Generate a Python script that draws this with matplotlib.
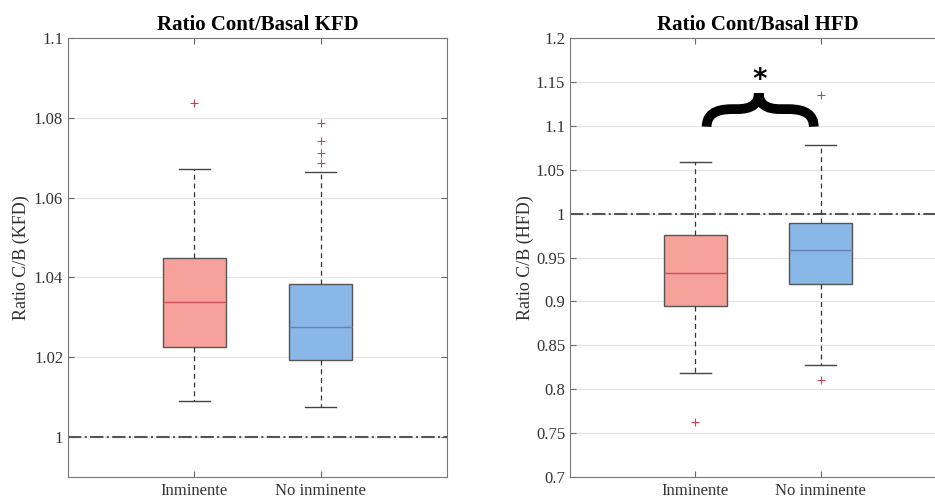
import matplotlib.pyplot as plt
from matplotlib.path import Path
from matplotlib.patches import PathPatch

groups = ['Inminente', 'No inminente']

# KFD ratio: box statistics per group
kfd_q1 = [1.0226, 1.0192]
kfd_med = [1.0339, 1.0276]
kfd_q3 = [1.0449, 1.0384]
kfd_whislo = [1.0090, 1.0076]
kfd_whishi = [1.0672, 1.0664]
kfd_fliers = [[1.0838], [1.0786, 1.0741, 1.0711, 1.0686]]

# HFD ratio: box statistics per group
hfd_q1 = [0.895, 0.9195]
hfd_med = [0.932, 0.959]
hfd_q3 = [0.976, 0.989]
hfd_whislo = [0.818, 0.828]
hfd_whishi = [1.059, 1.078]
hfd_fliers = [[0.763], [1.135, 0.811]]

kfd_ticks = [1.0, 1.02, 1.04, 1.06, 1.08, 1.1]
kfd_ticklabels = ['1', '1.02', '1.04', '1.06', '1.08', '1.1']
hfd_ticks = [0.7, 0.75, 0.8, 0.85, 0.9, 0.95, 1.0, 1.05, 1.1, 1.15, 1.2]
hfd_ticklabels = ['0.7', '0.75', '0.8', '0.85', '0.9', '0.95', '1', '1.05', '1.1', '1.15', '1.2']

fills = ['#f7a19b', '#88b7e8']
medcolors = ['#c9505a', '#6b80b8']

plt.rcParams['font.family'] = ['Liberation Serif', 'DejaVu Serif']


def make_stats(q1, med, q3, lo, hi, fl):
    out = []
    for i in range(len(q1)):
        out.append({'q1': q1[i], 'med': med[i], 'q3': q3[i],
                    'whislo': lo[i], 'whishi': hi[i], 'fliers': fl[i],
                    'label': groups[i]})
    return out


def draw_box(ax, stats, title, ylabel, ylim, ticks, ticklabels):
    b = ax.bxp(stats, positions=[1, 2], widths=0.5, patch_artist=True,
               showfliers=True, capwidths=0.25,
               whiskerprops=dict(color='#333333', linestyle=(0, (4, 3)), lw=0.9),
               capprops=dict(color='#444444', lw=1.0),
               flierprops=dict(marker='+', markeredgecolor='#d04050', markersize=6, markeredgewidth=0.8),
               boxprops=dict(edgecolor='#555555', lw=1.0))
    for i, p in enumerate(b['boxes']):
        p.set_facecolor(fills[i])
    for i, m in enumerate(b['medians']):
        m.set_color(medcolors[i])
        m.set_linewidth(1.0)
    ax.axhline(1.0, color='#555555', linestyle='-.', lw=1.5, zorder=1)
    ax.set_xlim(0, 3)
    ax.set_ylim(*ylim)
    ax.set_yticks(ticks)
    ax.set_yticklabels(ticklabels)
    ax.set_xticks([1, 2])
    ax.set_xticklabels(groups)
    ax.yaxis.grid(True, color='#e4e4e4', lw=0.8)
    ax.set_axisbelow(True)
    ax.tick_params(direction='in', top=True, right=True, labelsize=12,
                   colors='#666666', labelcolor='#333333', length=4)
    ax.tick_params(axis='x', pad=4)
    for s in ax.spines.values():
        s.set_color('#777777')
    ax.set_title(title, fontsize=15, fontweight='bold', pad=6)
    ax.set_ylabel(ylabel, fontsize=13, color='#333333')


fig = plt.figure(figsize=(9.35, 4.99), dpi=100)
W, H = 935, 499
ax1 = fig.add_axes([68 / W, 1 - 477 / H, 379 / W, 439 / H])
ax2 = fig.add_axes([570 / W, 1 - 477 / H, 376 / W, 439 / H])

draw_box(ax1, make_stats(kfd_q1, kfd_med, kfd_q3, kfd_whislo, kfd_whishi, kfd_fliers),
         'Ratio Cont/Basal KFD', 'Ratio C/B (KFD)', (0.99, 1.1), kfd_ticks, kfd_ticklabels)
draw_box(ax2, make_stats(hfd_q1, hfd_med, hfd_q3, hfd_whislo, hfd_whishi, hfd_fliers),
         'Ratio Cont/Basal HFD', 'Ratio C/B (HFD)', (0.7, 1.2), hfd_ticks, hfd_ticklabels)
ax1.yaxis.set_label_coords(-0.1, 0.5)
ax2.yaxis.set_label_coords(-0.095, 0.5)

# significance brace between the two HFD groups
bx0, bx1, bxm = 1.09, 1.945, 1.506
by_end, by_bar, by_tip = 1.099, 1.119, 1.137
dx_end, dx_tip = 0.2, 0.17
verts = [(bx0, by_end), (bx0, by_bar), (bx0 + dx_end, by_bar),
         (bxm - dx_tip, by_bar),
         (bxm, by_bar), (bxm, by_tip),
         (bxm, by_bar), (bxm + dx_tip, by_bar),
         (bx1 - dx_end, by_bar),
         (bx1, by_bar), (bx1, by_end)]
codes = [Path.MOVETO, Path.CURVE3, Path.CURVE3, Path.LINETO,
         Path.CURVE3, Path.CURVE3, Path.CURVE3, Path.CURVE3,
         Path.LINETO, Path.CURVE3, Path.CURVE3]
ax2.add_patch(PathPatch(Path(verts, codes), facecolor='none', edgecolor='black',
                        lw=7, capstyle='butt', joinstyle='miter', zorder=5))
ax2.text(bxm + 0.01, 1.152, '*', ha='center', va='center', fontsize=20,
         fontweight='bold', family='DejaVu Sans')

fig.savefig('out.png', dpi=100)
